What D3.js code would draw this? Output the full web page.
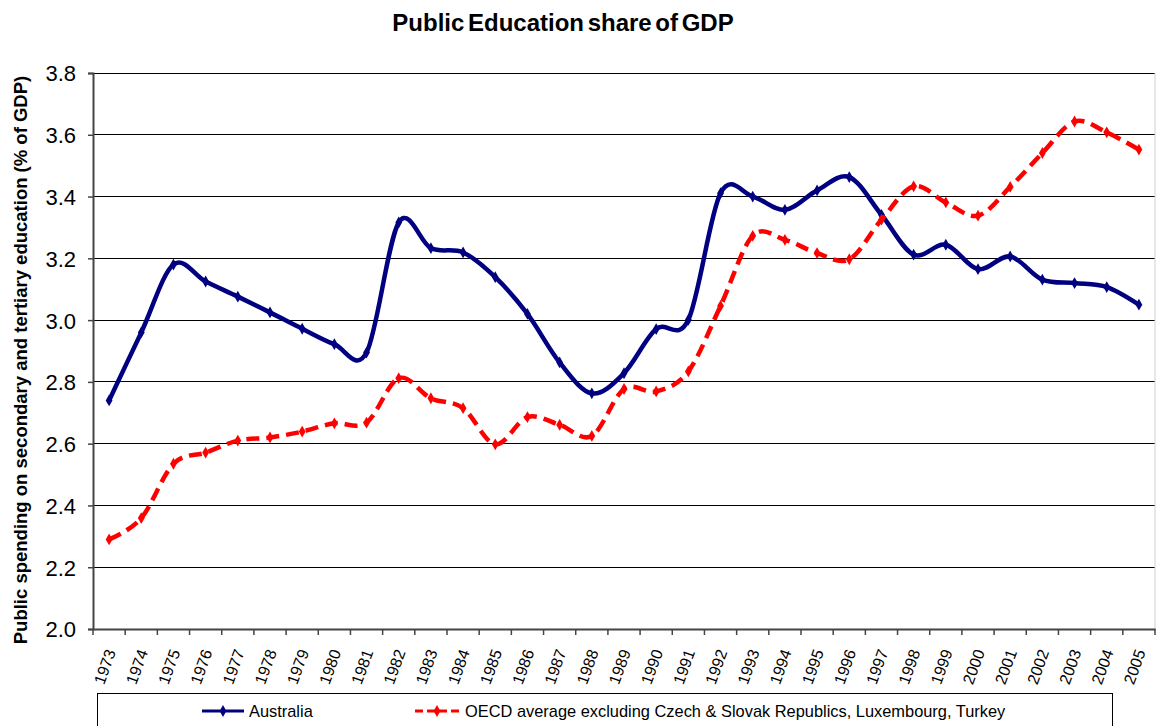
<!DOCTYPE html>
<html><head><meta charset="utf-8">
<script src="https://cdn.jsdelivr.net/npm/d3@7"></script>
<style>
html,body{margin:0;padding:0;background:#fff;}
svg{display:block;font-family:Arial,"Liberation Sans",sans-serif;}
</style></head>
<body><svg id="c" width="1156" height="726"></svg>
<script>
const years = d3.range(1973, 2006).map(String);
const australia = [2.74,2.96,3.18,3.125,3.076,3.025,2.972,2.922,2.895,3.316,3.233,3.219,3.139,3.02,2.863,2.763,2.828,2.971,3.001,3.411,3.40,3.357,3.42,3.463,3.341,3.212,3.244,3.165,3.206,3.131,3.12,3.107,3.05];
const oecd = [2.29,2.359,2.535,2.571,2.61,2.62,2.639,2.666,2.668,2.812,2.747,2.715,2.598,2.686,2.661,2.625,2.777,2.769,2.834,3.046,3.273,3.26,3.217,3.197,3.325,3.433,3.381,3.338,3.431,3.541,3.643,3.608,3.552];
const yTicks = [2.0,2.2,2.4,2.6,2.8,3.0,3.2,3.4,3.6,3.8];
const seriesNames = ["Australia","OECD average excluding Czech & Slovak Republics, Luxembourg, Turkey"];
const seriesColors = ["#000080","#ff0000"];

const svg = d3.select("#c");
const L = 93, R = 1155, T = 73, B = 629;
const x = d3.scaleBand().domain(years).range([L, R]).padding(0);
const y = d3.scaleLinear().domain([2.0, 3.8]).range([B, T]);
const cx = d => x(d) + x.bandwidth()/2;

// gridlines
svg.append("g").selectAll("line").data(yTicks.filter(v => v > 2.0)).join("line")
  .attr("x1", L).attr("x2", R).attr("y1", d => y(d)).attr("y2", d => y(d))
  .attr("stroke", "#000").attr("stroke-width", 1).attr("shape-rendering","crispEdges");
// right border
svg.append("line").attr("x1", R).attr("x2", R).attr("y1", T).attr("y2", B)
  .attr("stroke", "#d0d0d0").attr("stroke-width", 1);

// y axis
const yAxis = svg.append("g").attr("transform", `translate(${L},0)`)
  .call(d3.axisLeft(y).tickValues(yTicks).tickFormat(d3.format(".1f")).tickSize(5).tickPadding(12));
yAxis.select(".domain").attr("stroke", "#444").attr("stroke-width", 2);
yAxis.selectAll(".tick line").attr("stroke", "#444").attr("stroke-width", 1.5);
yAxis.selectAll(".tick text").attr("font-size", 22).attr("fill", "#000")
  .attr("font-family", "Arial, 'Liberation Sans', sans-serif").attr("dy", "0.36em");

// x axis
const xAxis = svg.append("g").attr("transform", `translate(0,${B})`)
  .call(d3.axisBottom(x).tickSize(0).tickFormat(""));
xAxis.select(".domain").attr("stroke", "#444").attr("stroke-width", 2);
xAxis.selectAll(".tick").remove();
const edges = years.map(d => x(d)).concat([R]);
svg.append("g").selectAll("line").data(edges).join("line")
  .attr("x1", d => d).attr("x2", d => d).attr("y1", B).attr("y2", B + 6)
  .attr("stroke", "#444").attr("stroke-width", 1.5);
svg.append("g").selectAll("text").data(years).join("text")
  .attr("transform", d => `translate(${cx(d) + 7},${B + 23}) rotate(-70)`)
  .attr("text-anchor", "end").attr("font-size", 16).attr("fill", "#000")
  .text(d => d);

// lines
const line = d3.line().x((d, i) => cx(years[i])).y(d => y(d)).curve(d3.curveCardinal.tension(0));
const diamond = d3.symbol().type(d3.symbolDiamond).size(40);
[australia, oecd].forEach((vals, k) => {
  svg.append("path").datum(vals).attr("d", line).attr("fill", "none")
    .attr("stroke", seriesColors[k]).attr("stroke-width", 4.5)
    .attr("stroke-dasharray", k === 1 ? "13,7" : null)
    .attr("stroke-linejoin", "round");
  svg.append("g").selectAll("path").data(vals).join("path")
    .attr("d", diamond).attr("fill", seriesColors[k])
    .attr("transform", (d, i) => `translate(${cx(years[i])},${y(d)})`);
});

// title
svg.append("text").attr("x", 563).attr("y", 31).attr("text-anchor", "middle")
  .attr("font-size", 24).attr("font-weight", "bold").attr("fill", "#000")
  .attr("word-spacing", -3)
  .text("Public Education share of GDP");

// y label
svg.append("text").attr("transform", `translate(27,${(75+645)/2}) rotate(-90)`)
  .attr("text-anchor", "middle").attr("font-size", 18.5).attr("font-weight", "bold")
  .text("Public spending on secondary and tertiary education (% of GDP)");

// legend
svg.append("rect").attr("x", 97.5).attr("y", 693.5).attr("width", 1015).attr("height", 40)
  .attr("fill", "#fff").attr("stroke", "#000").attr("stroke-width", 1);
const legX = [[202, 244, 249], [415, 459, 465]];
seriesNames.forEach((name, k) => {
  const [a, b, t] = legX[k];
  svg.append("line").attr("x1", a).attr("x2", b).attr("y1", 711).attr("y2", 711)
    .attr("stroke", seriesColors[k]).attr("stroke-width", 3)
    .attr("stroke-dasharray", k === 1 ? "8,4" : null);
  svg.append("path").attr("d", diamond).attr("fill", seriesColors[k])
    .attr("transform", `translate(${(a+b)/2},711)`);
  svg.append("text").attr("x", t).attr("y", 717).attr("font-size", 16.4).attr("fill", "#000")
    .text(name);
});
</script>
</body></html>
